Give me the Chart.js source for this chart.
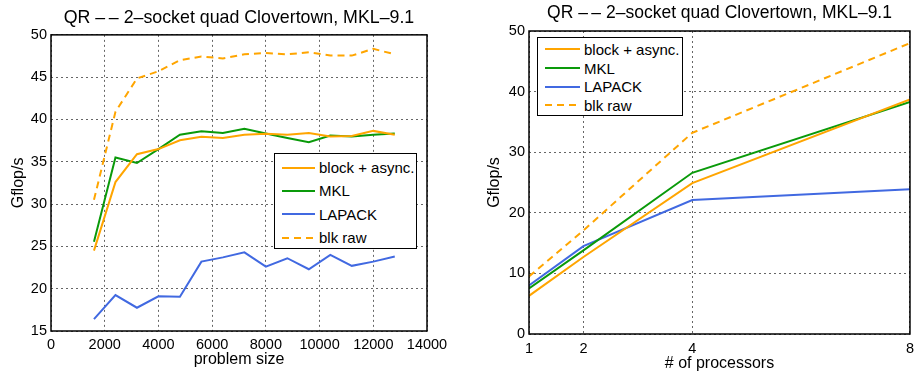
<!DOCTYPE html>
<html>
<head>
<meta charset="utf-8">
<script src="https://cdn.jsdelivr.net/npm/chart.js@4"></script>
<style>
  body { margin: 0; background: #fff; font-family: "Liberation Sans", Arial, sans-serif; }
  .wrap { position: absolute; top: 0; width: 460px; height: 374px; }
  .legend { position: absolute; border: 1.5px solid #000; background: #fff; font-size: 15px; color: #000; box-sizing: border-box; }
  .legend .row { display: flex; align-items: center; white-space: nowrap; }
  .legend svg { flex: none; margin-right: 4px; }
</style>
</head>
<body>
<div class="wrap" style="left:0"><canvas id="left"></canvas><div class="legend" id="legLeft"></div></div>
<div class="wrap" style="left:460px"><canvas id="right"></canvas><div class="legend" id="legRight"></div></div>
<script>
// ----- Data -----
const TITLE = "QR \u2013\u2009\u2013 2\u2013socket quad Clovertown, MKL\u20139.1";
const seriesNames = ["block + async.", "MKL", "LAPACK", "blk raw"];

// left: performance vs. problem size
const problemSizes = [1600, 2400, 3200, 4000, 4800, 5600, 6400, 7200, 8000, 8800, 9600, 10400, 11200, 12000, 12800];
const sizeBlockAsync = [24.5, 32.6, 35.9, 36.5, 37.55, 37.95, 37.8, 38.2, 38.3, 38.2, 38.4, 38.0, 38.05, 38.65, 38.2];
const sizeMKL = [25.55, 35.5, 34.85, 36.5, 38.2, 38.6, 38.4, 38.9, 38.35, 37.8, 37.3, 38.1, 38.0, 38.2, 38.35];
const sizeLAPACK = [16.4, 19.25, 17.75, 19.1, 19.05, 23.2, 23.7, 24.3, 22.6, 23.6, 22.3, 24.0, 22.7, 23.2, 23.8];
const sizeBlkRaw = [30.5, 40.9, 44.85, 45.7, 47.0, 47.45, 47.2, 47.7, 47.85, 47.7, 47.95, 47.55, 47.55, 48.35, 47.7];

// right: performance vs. number of processors
const procCounts = [1, 2, 4, 8];
const procBlockAsync = [6.3, 12.7, 24.9, 38.7];
const procMKL = [7.5, 13.8, 26.6, 38.3];
const procLAPACK = [8.0, 14.5, 22.1, 23.9];
const procBlkRaw = [9.5, 17.1, 33.2, 48.0];

const colors = ["#FFA500", "#0A9A0A", "#4169E1", "#FFA500"];
const dashes = [[], [], [], [7, 5]];

Chart.defaults.font.family = '"Liberation Sans", Arial, sans-serif';
Chart.defaults.color = "#000";

// box around the plot area (MATLAB style)
const frame = {
  id: "frame",
  afterDraw(chart) {
    const { ctx, chartArea: a } = chart;
    ctx.save();
    ctx.strokeStyle = "#000";
    ctx.lineWidth = 1.5;
    ctx.strokeRect(a.left, a.top, a.right - a.left, a.bottom - a.top);
    ctx.restore();
  }
};

function makeDatasets(xs, ys) {
  return ys.map((vals, i) => ({
    label: seriesNames[i],
    data: vals.map((v, j) => ({ x: xs[j], y: v })),
    borderColor: colors[i],
    borderWidth: 2,
    borderDash: dashes[i],
    pointRadius: 0,
    tension: 0,
    fill: false
  }));
}

const grid = { display: true, drawOnChartArea: true, color: "#666666", lineWidth: 1, drawTicks: false };

function makeChart(id, cfg) {
  return new Chart(document.getElementById(id), {
    type: "line",
    data: { datasets: cfg.datasets },
    plugins: [frame],
    options: {
      responsive: false,
      animation: false,
      layout: { padding: cfg.padding },
      plugins: {
        legend: { display: false },
        tooltip: { enabled: false },
        title: { display: true, fullSize: false, text: TITLE, font: { size: cfg.titleSize, weight: "normal" }, padding: cfg.titlePad, color: "#000" }
      },
      scales: {
        x: {
          type: "linear",
          min: cfg.xMin, max: cfg.xMax,
          border: { display: false, dash: [2, 3] },
          grid: grid,
          ticks: Object.assign({ font: { size: 14.5 }, padding: cfg.xTickPad, maxRotation: 0, autoSkip: false, callback: (v) => String(v) }, cfg.xTicks || {}),
          afterBuildTicks: cfg.xTickValues ? (s) => { s.ticks = cfg.xTickValues.map(v => ({ value: v })); } : undefined,
          title: { display: true, text: cfg.xTitle, font: { size: 16 }, padding: { top: 0, bottom: cfg.xTitlePad } },
          afterFit: (s) => { s.height = cfg.xHeight; }
        },
        y: {
          type: "linear",
          min: cfg.yMin, max: cfg.yMax,
          border: { display: false, dash: [2, 3] },
          grid: grid,
          ticks: { stepSize: cfg.yStep, font: { size: 14.5 }, padding: 4 },
          title: { display: true, text: "Gflop/s", font: { size: 16 }, padding: { top: cfg.yTitlePad, bottom: 0 } },
          afterFit: (s) => { s.width = cfg.yWidth; }
        }
      }
    }
  });
}

function setSize(id) {
  const c = document.getElementById(id);
  c.width = 460; c.height = 374;
  c.style.width = "460px"; c.style.height = "374px";
}
setSize("left"); setSize("right");

const leftChart = makeChart("left", {
  datasets: makeDatasets(problemSizes, [sizeBlockAsync, sizeMKL, sizeLAPACK, sizeBlkRaw]),
  padding: { left: 0, right: 33, top: 0, bottom: 0 },
  titleSize: 17.8, titlePad: { top: 7.5, bottom: 6 },
  xMin: 0, xMax: 14000, xTicks: { stepSize: 2000 },
  xTickPad: 5, xTitle: "problem size", xTitlePad: 5, xHeight: 43,
  yMin: 15, yMax: 50, yStep: 5, yTitlePad: 9, yWidth: 51
});

const rightChart = makeChart("right", {
  datasets: makeDatasets(procCounts, [procBlockAsync, procMKL, procLAPACK, procBlkRaw]),
  padding: { left: 0, right: 5, top: 0, bottom: 0 },
  titleSize: 17.5, titlePad: { top: 3, bottom: 7 },
  xMin: 1, xMax: 8, xTickValues: procCounts,
  xTickPad: 6, xTitle: "# of processors", xTitlePad: 1, xHeight: 40,
  yMin: 0, yMax: 50, yStep: 10, yTitlePad: 25, yWidth: 69
});

// ----- HTML legends inside the plot area -----
function buildLegend(el, chart, box, rowH) {
  el.style.left = box.left + "px";
  el.style.top = box.top + "px";
  el.style.width = box.width + "px";
  el.style.height = box.height + "px";
  el.style.padding = box.pad;
  chart.data.datasets.forEach((ds) => {
    const row = document.createElement("div");
    row.className = "row";
    row.style.height = rowH + "px";
    const dash = ds.borderDash.length ? `stroke-dasharray="${ds.borderDash.join(",")}"` : "";
    row.innerHTML = `<svg width="${box.lineLen}" height="4"><line x1="0" y1="2" x2="${box.lineLen}" y2="2" stroke="${ds.borderColor}" stroke-width="2" ${dash}/></svg><span>${ds.label}</span>`;
    el.appendChild(row);
  });
}
buildLegend(document.getElementById("legLeft"), leftChart,
  { left: 274, top: 153, width: 143, height: 96, lineLen: 33, pad: "2px 0 0 7px" }, 23.3);
buildLegend(document.getElementById("legRight"), rightChart,
  { left: 77, top: 37, width: 146, height: 79, lineLen: 35, pad: "2px 0 0 7px" }, 18.7);
</script>
</body>
</html>
